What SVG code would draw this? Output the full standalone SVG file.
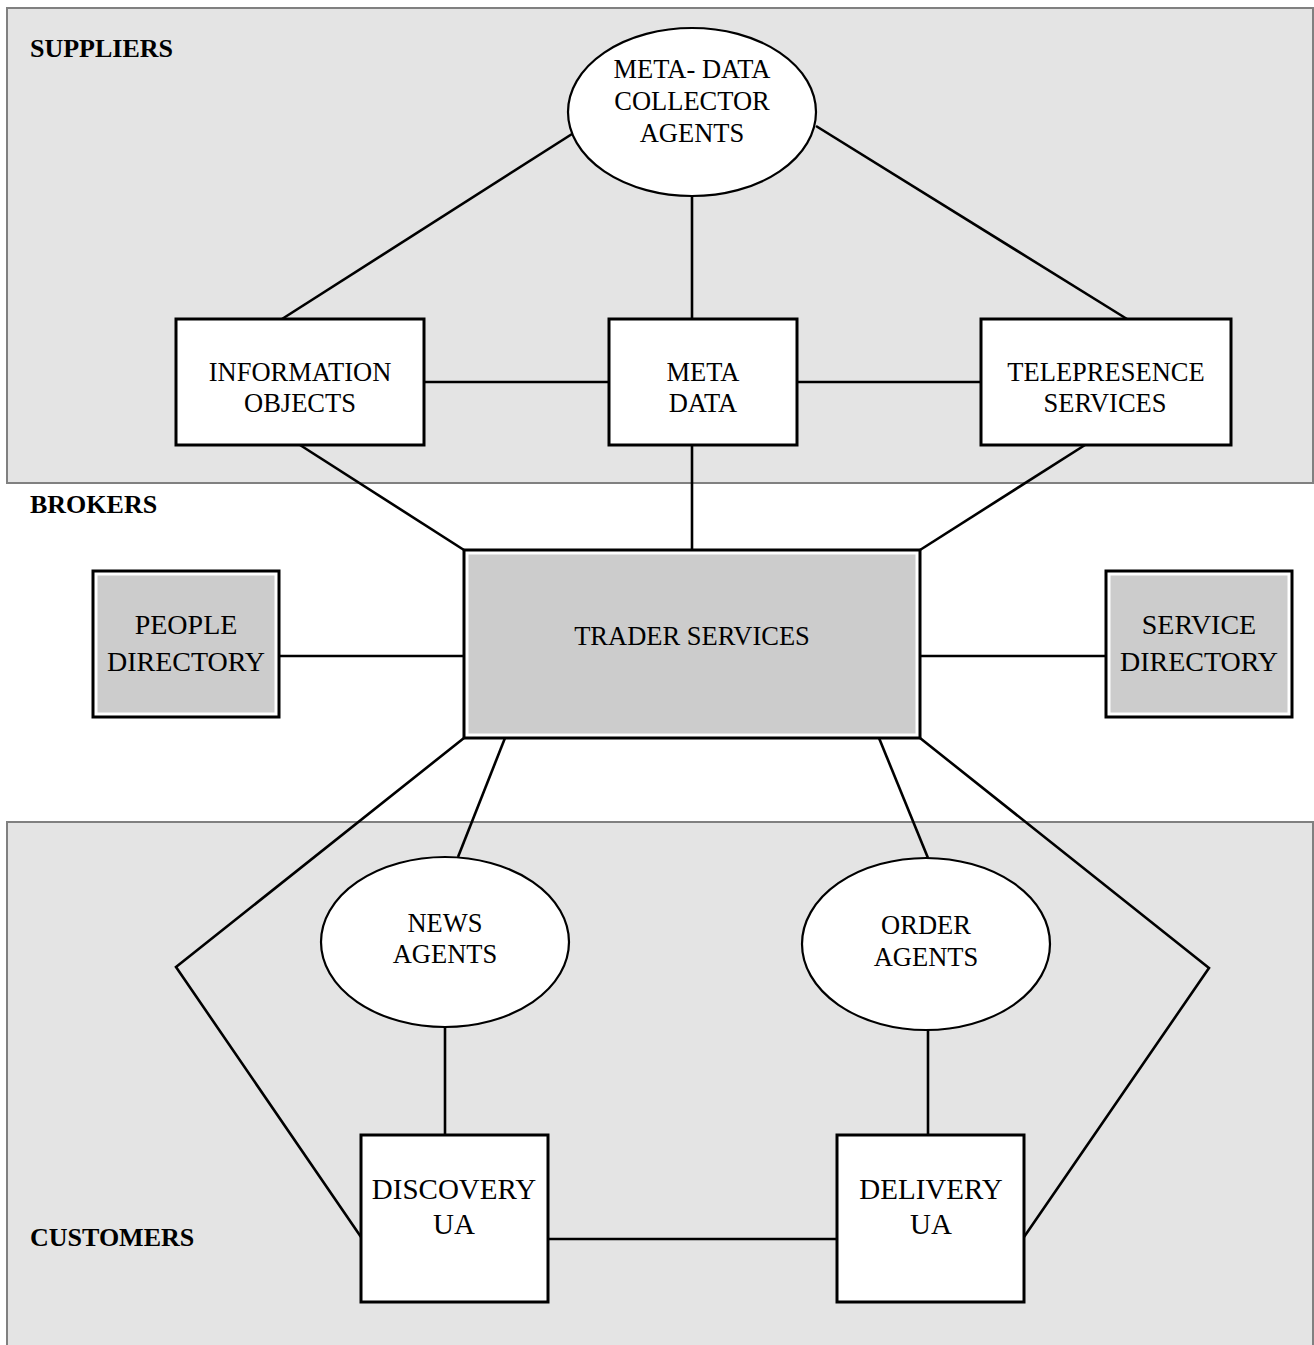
<svg xmlns="http://www.w3.org/2000/svg" width="1314" height="1345" viewBox="0 0 1314 1345">
<style>
.panel{fill:#e4e4e4;stroke:#808080;stroke-width:2}
.box{fill:#ffffff;stroke:#000;stroke-width:3}
.ell{fill:#ffffff;stroke:#000;stroke-width:2.2}
.inner{fill:#cccccc;stroke:none}
.conn{fill:none;stroke:#000;stroke-width:2.6;stroke-linejoin:miter}
text{font-family:"Liberation Serif","Times New Roman",serif;fill:#000;text-anchor:middle}
.t{font-size:26.5px}
.t2{font-size:28px}
.t3{font-size:29px}
.lbl{font-size:26px;font-weight:bold;text-anchor:start}
</style>
<rect x="0" y="0" width="1314" height="1345" fill="#ffffff"/>
<g id="panel-suppliers">
<rect class="panel" x="7" y="8" width="1306" height="475"/>
<text class="lbl" x="30" y="57">SUPPLIERS</text>
</g>
<g id="panel-customers">
<rect class="panel" x="7" y="822" width="1306" height="530"/>
<text class="lbl" x="30" y="1246">CUSTOMERS</text>
</g>
<g id="label-brokers">
<text class="lbl" x="30" y="513">BROKERS</text>
</g>
<g id="connectors">
<line class="conn" x1="282" y1="319" x2="572" y2="134"/>
<line class="conn" x1="692" y1="196" x2="692" y2="319"/>
<line class="conn" x1="816" y1="126" x2="1127" y2="319"/>
<line class="conn" x1="424" y1="382" x2="609" y2="382"/>
<line class="conn" x1="797" y1="382" x2="981" y2="382"/>
<line class="conn" x1="300" y1="445" x2="464" y2="550"/>
<line class="conn" x1="692" y1="445" x2="692" y2="550"/>
<line class="conn" x1="1085" y1="445" x2="920" y2="550"/>
<line class="conn" x1="280" y1="656" x2="464" y2="656"/>
<line class="conn" x1="920" y1="656" x2="1105" y2="656"/>
<polyline class="conn" points="464,738 176,967 361,1237"/>
<line class="conn" x1="505" y1="738" x2="458" y2="857"/>
<line class="conn" x1="879" y1="738" x2="928" y2="858"/>
<polyline class="conn" points="920,738 1209,968 1024,1237"/>
<line class="conn" x1="445" y1="1028" x2="445" y2="1135"/>
<line class="conn" x1="928" y1="1030" x2="928" y2="1135"/>
<line class="conn" x1="548" y1="1239" x2="837" y2="1239"/>
</g>
<g id="meta-data-collector-agents">
<ellipse class="ell" cx="692" cy="112" rx="124" ry="84"/>
<text class="t" x="692" y="78">META- DATA</text>
<text class="t" x="692" y="110">COLLECTOR</text>
<text class="t" x="692" y="142">AGENTS</text>
</g>
<g id="information-objects">
<rect class="box" x="176" y="319" width="248" height="126"/>
<text class="t" x="300" y="381">INFORMATION</text>
<text class="t" x="300" y="412">OBJECTS</text>
</g>
<g id="meta-data">
<rect class="box" x="609" y="319" width="188" height="126"/>
<text class="t" x="703" y="381">META</text>
<text class="t" x="703" y="412">DATA</text>
</g>
<g id="telepresence-services">
<rect class="box" x="981" y="319" width="250" height="126"/>
<text class="t" x="1106" y="381">TELEPRESENCE</text>
<text class="t" x="1105" y="412">SERVICES</text>
</g>
<g id="trader-services">
<rect class="box" x="464" y="550" width="456" height="188"/>
<rect class="inner" x="468.5" y="554.5" width="447" height="179"/>
<text class="t" x="692" y="645">TRADER SERVICES</text>
</g>
<g id="people-directory">
<rect class="box" x="93" y="571" width="186" height="146"/>
<rect class="inner" x="97.5" y="575.5" width="177" height="137"/>
<text class="t2" x="186" y="634">PEOPLE</text>
<text class="t2" x="186" y="671">DIRECTORY</text>
</g>
<g id="service-directory">
<rect class="box" x="1106" y="571" width="186" height="146"/>
<rect class="inner" x="1110.5" y="575.5" width="177" height="137"/>
<text class="t2" x="1199" y="634">SERVICE</text>
<text class="t2" x="1199" y="671">DIRECTORY</text>
</g>
<g id="news-agents">
<ellipse class="ell" cx="445" cy="942" rx="124" ry="85"/>
<text class="t" x="445" y="932">NEWS</text>
<text class="t" x="445" y="963">AGENTS</text>
</g>
<g id="order-agents">
<ellipse class="ell" cx="926" cy="944" rx="124" ry="86"/>
<text class="t" x="926" y="934">ORDER</text>
<text class="t" x="926" y="966">AGENTS</text>
</g>
<g id="discovery-ua">
<rect class="box" x="361" y="1135" width="187" height="167"/>
<text class="t3" x="454" y="1199">DISCOVERY</text>
<text class="t3" x="454" y="1234">UA</text>
</g>
<g id="delivery-ua">
<rect class="box" x="837" y="1135" width="187" height="167"/>
<text class="t3" x="931" y="1199">DELIVERY</text>
<text class="t3" x="931" y="1234">UA</text>
</g>
</svg>
